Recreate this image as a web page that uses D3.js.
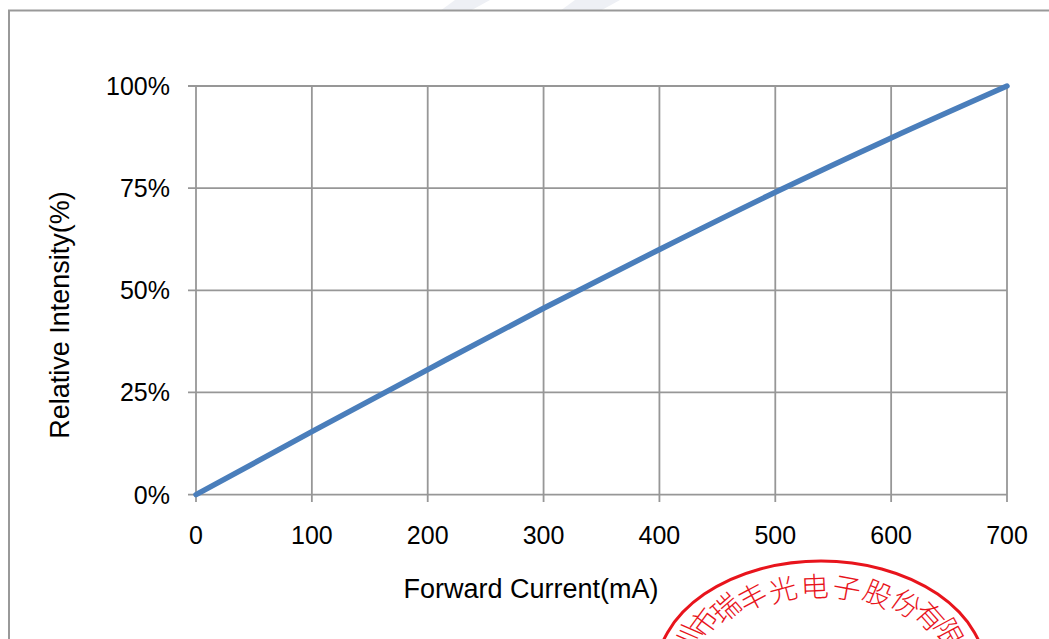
<!DOCTYPE html>
<html><head><meta charset="utf-8">
<script src="https://cdn.jsdelivr.net/npm/d3@7/dist/d3.min.js"></script>
<style>html,body{margin:0;padding:0;background:#fff;overflow:hidden}</style>
</head><body>
<svg id="c" width="1049" height="639"></svg>
<script>
const current = [0, 100, 200, 300, 400, 500, 600, 700];
const intensity = [0, 15.4, 30.6, 45.6, 60.0, 74.0, 87.3, 100];
const xTicks = [0, 100, 200, 300, 400, 500, 600, 700];
const yTicks = [0, 25, 50, 75, 100];
const xTitle = "Forward Current(mA)";
const yTitle = "Relative Intensity(%)";
const stampChars = ["深","圳","市","瑞","丰","光","电","子","股","份","有","限","公","司"];

const svg = d3.select("#c");
const font = "'Liberation Sans', Arial, sans-serif";
const gridCol = "#979797";

// faint watermark at top
svg.append("polygon").attr("points","455,0 490,0 470,11 440,11").attr("fill","#eef0f5");
svg.append("polygon").attr("points","575,0 620,0 600,11 560,11").attr("fill","#eef0f5");

// outer border
svg.append("rect").attr("x",9).attr("y",10.5).attr("width",1060).attr("height",660)
  .attr("fill","none").attr("stroke","#999").attr("stroke-width",2);

const x = d3.scaleLinear().domain([0,700]).range([196,1007]);
const y = d3.scaleLinear().domain([0,100]).range([494.6,86]);

// grid
svg.append("g").selectAll("line").data(yTicks).join("line")
  .attr("x1",188).attr("x2",1007).attr("y1",d=>y(d)).attr("y2",d=>y(d))
  .attr("stroke",gridCol).attr("stroke-width",1.8);
svg.append("g").selectAll("line").data(xTicks).join("line")
  .attr("x1",d=>x(d)).attr("x2",d=>x(d)).attr("y1",86).attr("y2",502)
  .attr("stroke",gridCol).attr("stroke-width",1.8);

// tick labels
svg.append("g").selectAll("text").data(yTicks).join("text")
  .attr("x",170).attr("y",d=>y(d)).attr("dy","0.36em").attr("text-anchor","end")
  .attr("font-family",font).attr("font-size",25).attr("fill","#000")
  .text(d=>d+"%");
svg.append("g").selectAll("text").data(xTicks).join("text")
  .attr("x",d=>x(d)).attr("y",544).attr("text-anchor","middle")
  .attr("font-family",font).attr("font-size",25).attr("fill","#000")
  .text(d=>d);

// titles
svg.append("text").attr("x",531).attr("y",598).attr("text-anchor","middle")
  .attr("font-family",font).attr("font-size",27).text(xTitle);
svg.append("text").attr("transform","translate(69,315) rotate(-90)").attr("text-anchor","middle")
  .attr("font-family",font).attr("font-size",27).text(yTitle);

// data line
const line = d3.line().x((d,i)=>x(current[i])).y(d=>y(d)).curve(d3.curveMonotoneX);
svg.append("path").datum(intensity).attr("d",line)
  .attr("fill","none").attr("stroke","#4a7ebb").attr("stroke-width",5.5).attr("stroke-linecap","round");

// red stamp
const cx = 821, cy = 674;
svg.append("ellipse").attr("cx",cx).attr("cy",cy).attr("rx",165).attr("ry",113)
  .attr("fill","none").attr("stroke","#e8141c").attr("stroke-width",3);
const trx = 145, tryy = 87, step = 12.8;
svg.append("g").selectAll("text").data(stampChars).join("text")
  .attr("transform",(d,i)=>{
    const deg = (i-6)*step - 2.5;
    const a = deg*Math.PI/180;
    const px = cx + trx*Math.sin(a), py = cy - tryy*Math.cos(a);
    return `translate(${px},${py}) rotate(${deg})`;
  })
  .attr("text-anchor","middle").attr("dy","0.36em")
  .attr("font-family","'Noto Sans CJK SC', sans-serif").attr("font-weight",300)
  .attr("font-size",28).attr("fill","#e8141c").text(d=>d);
</script>
</body></html>
